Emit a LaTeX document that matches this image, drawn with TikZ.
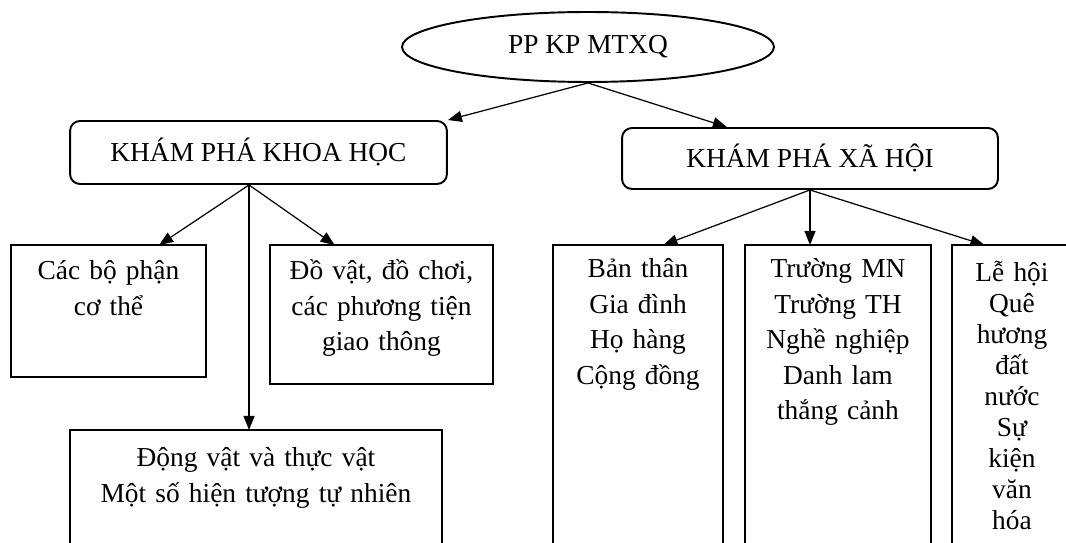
\documentclass[tikz,border=0pt]{standalone}
\usepackage{fontspec}
\setmainfont{Liberation Serif}
\usetikzlibrary{positioning,shapes.geometric,arrows.meta,calc}
\newcommand\diafont{\fontsize{15.6}{20.2}\selectfont}
\newcommand\tallfont{\fontsize{15.6}{17.6}\selectfont}

\begin{document}
\begin{tikzpicture}[x=0.02cm,y=-0.02cm,
        root/.style={draw,line width=1.1pt,ellipse,minimum width=7.44cm,minimum height=1.4cm,inner sep=0pt,font=\diafont},
        branch/.style={draw,line width=1.1pt,rounded corners=0.2cm,inner sep=0pt,font=\diafont},
        leaf/.style={draw,line width=1.1pt,anchor=north west,inner sep=0pt,outer sep=0pt,align=center,font=\diafont},
        link/.style={line width=0.7pt,-{Triangle[length=0.28cm,width=0.22cm]}}]
        \useasboundingbox (0,0) rectangle (1066,543);
        \clip (0,0) rectangle (1066,543);

        \node[root] (ppkp) at (588,47) {PP KP MTXQ};
        \node[branch,minimum width=7.54cm,minimum height=1.26cm] (khkh) at (258.5,152.5) {KHÁM PHÁ KHOA HỌC};
        \node[branch,minimum width=7.52cm,minimum height=1.22cm] (kpxh) at (810,158.5) {KHÁM PHÁ XÃ HỘI};

        % khoa hoc
        \node[leaf,text width=3.9cm,text height=0.7cm,text depth=1.94cm] (cbp) at (11,245) {Các bộ phận\\cơ thể};
        \node[leaf,text width=4.46cm,text height=0.7cm,text depth=2.08cm] (dv) at (270,245) {Đồ vật, đồ chơi,\\các phương tiện\\giao thông};
        \node[leaf,text width=7.44cm,text height=0.74cm,text depth=3cm] (dvtv) at (70,430) {Động vật và thực vật\\Một số hiện tượng tự nhiên};

        % xa hoi
        \node[leaf,text width=3.4cm,text height=0.66cm,text depth=6cm] (bt) at (553,245) {Bản thân\\Gia đình\\Họ hàng\\Cộng đồng};
        \node[leaf,text width=3.72cm,text height=0.66cm,text depth=6cm] (mn) at (745,245) {Trường MN\\Trường TH\\Nghề nghiệp\\Danh lam\\thắng cảnh};
        \node[leaf,font=\tallfont,text width=2.4cm,text height=0.74cm,text depth=6cm] (lh) at (952,245) {Lễ hội\\Quê\\hương\\đất\\nước\\Sự\\kiện\\văn\\hóa};

        \draw[link] (ppkp.south) -- (khkh.north east);
        \draw[link] (ppkp.south) -- ($(kpxh.north west)!0.28!(kpxh.north east)$);

        \coordinate (khkhs) at ($(khkh.south west)!0.475!(khkh.south east)$);
        \draw[link] (khkhs) -- ($(cbp.north west)!0.76!(cbp.north east)$);
        \draw[link] (khkhs) -- ($(dv.north west)!0.29!(dv.north east)$);
        \draw[link] (khkhs) -- (khkhs |- dvtv.north);

        \draw[link] (kpxh.south) -- ($(bt.north west)!0.65!(bt.north east)$);
        \draw[link] (kpxh.south) -- (kpxh.south |- mn.north);
        \draw[link] (kpxh.south) -- ($(lh.north west)!0.27!(lh.north east)$);
\end{tikzpicture}
\end{document}
